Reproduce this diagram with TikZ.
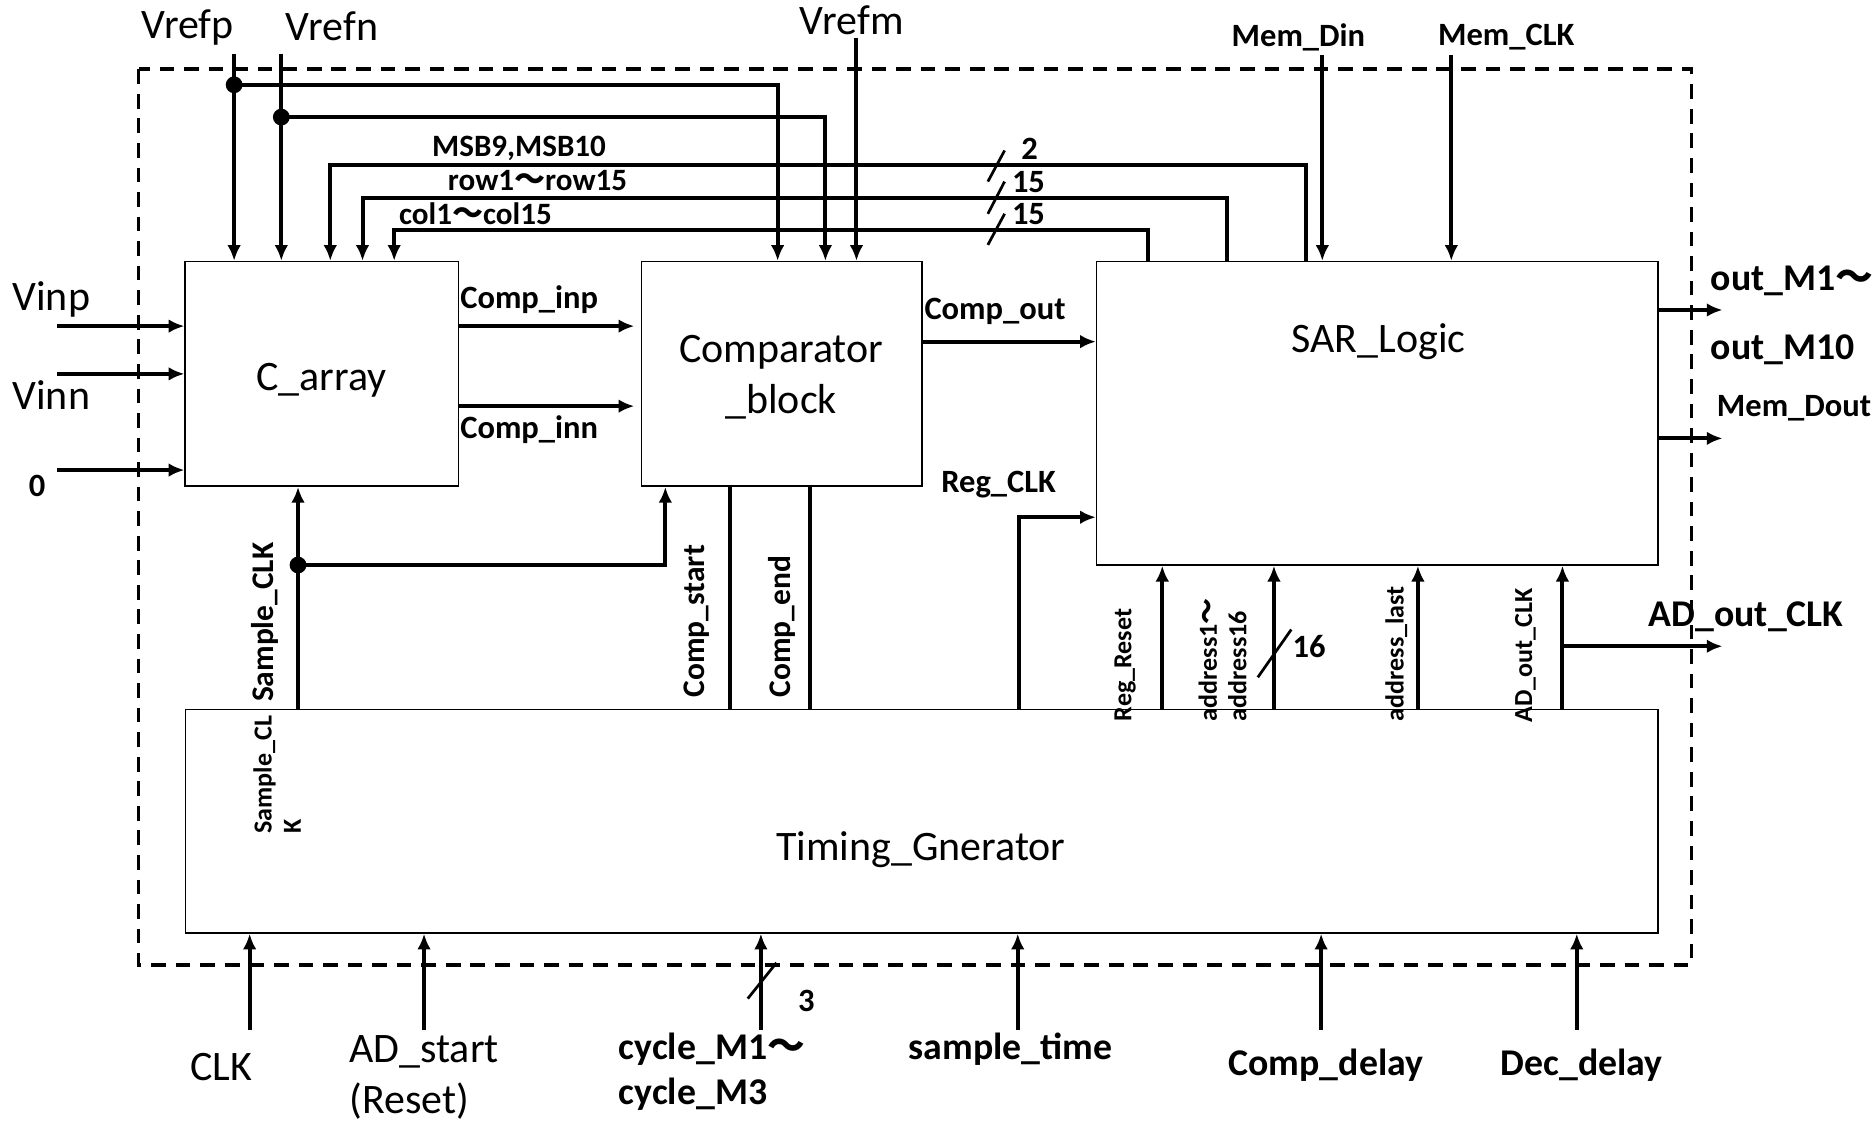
\documentclass[tikz,border=0pt]{standalone}
\usepackage{fontspec}
\setmainfont{Carlito}
\newfontfamily\cjk{Noto Sans CJK SC}
\usepackage{tikz}
\usetikzlibrary{
  arrows.meta,
  calc,
  positioning
}
\newcommand{\wt}{{\cjk ～}}
\tikzset{
  % Blocks
  blk/.style       = {draw, line width=0.75pt, inner sep=0pt},
  % Signal lines
  sigline/.style   = {line width=1.9pt},
  sig/.style       = {sigline, -{Latex[length=7.5pt,width=6.5pt]}},
  busmark/.style   = {line width=1.3pt},
  dashframe/.style = {line width=1.8pt, dash pattern=on 7pt off 4.7pt},
  % Junction dots
  dotpt/.style     = {circle, fill, inner sep=0pt, minimum size=8pt},
  % Labels
  lab/.style       = {inner sep=0pt, font=\fontsize{20}{24.4}\selectfont},
  labb/.style      = {inner sep=0pt, font=\bfseries\fontsize{15.5}{18}\selectfont},
  labbus/.style    = {inner sep=0pt, font=\bfseries\fontsize{14.8}{18}\selectfont},
  labbig/.style    = {inner sep=0pt, font=\bfseries\fontsize{18}{21.5}\selectfont},
  rotlab/.style    = {inner sep=0pt, rotate=90, anchor=west, font=\bfseries\fontsize{15}{18}\selectfont},
  rotsmall/.style  = {inner sep=0pt, rotate=90, anchor=west, align=left, font=\bfseries\fontsize{12.4}{14}\selectfont},
}

\begin{document}
\begin{tikzpicture}[x=0.02cm, y=-0.02cm]
  \useasboundingbox (0,0) rectangle (1568,940);
  \draw[dashframe] (116,58) rectangle (1416,808);

  % blocks
  \node[blk, minimum width=4.58cm, minimum height=3.76cm] (carr) at (269.5,313) {};
  \node[blk, minimum width=4.70cm, minimum height=3.76cm] (comp) at (654.5,313) {};
  \node[blk, minimum width=9.40cm, minimum height=5.08cm] (sar) at (1153,346) {};
  \node[blk, minimum width=24.66cm, minimum height=3.74cm] (tim) at (771.5,687.5) {};
  \node[lab] (carrtxt) at (269,318) {C\_array};
  \node[lab, align=center] (comptxt) at (654,316) {Comparator\\\_block};
  \node[lab] (sartxt) at (1154,286) {SAR\_Logic};
  \node[lab] (timtxt) at (771,711) {Timing\_Gnerator};

  % references
  \node[lab] (vrefptxt) at (157,23) {Vrefp};
  \node[lab] (vrefntxt) at (278,22) {Vrefn};
  \node[lab] (vrefmtxt) at (713,17) {Vrefm};
  \coordinate (vp) at (196,45);
  \coordinate (vn) at (235.5,45);
  \coordinate (vm) at (717,32);
  \draw[sig] (vp) -- (vp |- carr.north);
  \draw[sig] (vn) -- (vn |- carr.north);
  \draw[sig] (vm) -- (vm |- comp.north);
  \node[dotpt] (dp) at (196,71) {};
  \node[dotpt] (dn) at (235.5,98) {};
  \coordinate (vpc) at (651,71);
  \coordinate (vnc) at (691,98);
  \draw[sig] (dp.center) -- (vpc) -- (vpc |- comp.north);
  \draw[sig] (dn.center) -- (vnc) -- (vnc |- comp.north);

  % buses from SAR_Logic
  \coordinate (msb) at (1093,138);
  \coordinate (row) at (1027,165.5);
  \coordinate (col) at (961,192.5);
  \coordinate (msbin) at (276.5,138);
  \coordinate (rowin) at (303.5,165.5);
  \coordinate (colin) at (330,192.5);
  \draw[sig] (msb |- sar.north) -- (msb) -- (msbin) -- (msbin |- carr.north);
  \draw[sig] (row |- sar.north) -- (row) -- (rowin) -- (rowin |- carr.north);
  \draw[sig] (col |- sar.north) -- (col) -- (colin) -- (colin |- carr.north);
  \node[labbus] (msbtxt) at (434.5,124) {MSB9,MSB10};
  \node[labbus] (rowtxt) at (450,151) {row1\wt row15};
  \node[labbus] (coltxt) at (398,179) {col1\wt col15};
  \draw[busmark] (827,152) -- (841,126);
  \draw[busmark] (827,179) -- (841,152);
  \draw[busmark] (827,205) -- (841,179);
  \node[labb] (nmsb) at (862,125) {2};
  \node[labb] (nrow) at (861,152) {15};
  \node[labb] (ncol) at (861,179) {15};

  % memory inputs
  \node[labb] (memdintxt) at (1087,31) {Mem\_Din};
  \node[labb] (memclktxt) at (1261,31) {Mem\_CLK};
  \coordinate (mdin) at (1107,46);
  \coordinate (mclk) at (1215,46);
  \draw[sig] (mdin) -- (mdin |- sar.north);
  \draw[sig] (mclk) -- (mclk |- sar.north);

  % analog inputs
  \node[lab] (vinptxt) at (43,251) {Vinp};
  \node[lab] (vinntxt) at (43,331) {Vinn};
  \node[labb] (zerotxt) at (31,407) {0};
  \coordinate (vinp) at (48,273);
  \coordinate (vinn) at (48,313);
  \coordinate (zero) at (48,393.5);
  \foreach \c in {vinp,vinn,zero}
    \draw[sig] (\c) -- (\c -| carr.west);

  % C_array -> comparator -> SAR
  \coordinate (cinp) at (531,273);
  \coordinate (cinn) at (531,340);
  \draw[sig] (cinp -| carr.east) -- (cinp);
  \draw[sig] (cinn -| carr.east) -- (cinn);
  \node[labb] (cinptxt) at (443,251) {Comp\_inp};
  \node[labb] (cinntxt) at (443,360) {Comp\_inn};
  \coordinate (cout) at (850,286);
  \draw[sig] (cout -| comp.east) -- (cout -| sar.west);
  \node[labb] (couttxt) at (833,261) {Comp\_out};
  \coordinate (rclk) at (853,433);
  \draw[sig] (rclk |- tim.north) -- (rclk) -- (rclk -| sar.west);
  \node[labb] (rclktxt) at (836,406) {Reg\_CLK};

  % outputs
  \coordinate (outm) at (1442,259.5);
  \coordinate (mdout) at (1442,367);
  \coordinate (adclk) at (1442,541);
  \coordinate (adsrc) at (1308,541);
  \draw[sig] (outm -| sar.east) -- (outm);
  \draw[sig] (mdout -| sar.east) -- (mdout);
  \draw[sig] (adsrc) -- (adclk);
  \node[labbig, anchor=west] (outmtxt) at (1432,235) {out\_M1\wt};
  \node[labbig, anchor=west] (outmtxtb) at (1432,293) {out\_M10};
  \node[labb, anchor=west] (mdouttxt) at (1437,342) {Mem\_Dout};
  \node[labbig, anchor=west] (adclktxt) at (1380,516) {AD\_out\_CLK};

  % timing outputs
  \coordinate (sclk) at (249.5,473);
  \draw[sig] (sclk |- tim.north) -- (sclk |- carr.south);
  \node[dotpt] (ds) at (sclk) {};
  \coordinate (cst) at (557,473);
  \draw[sig] (ds.center) -- (cst) -- (cst |- comp.south);
  \coordinate (cstart) at (611,500);
  \coordinate (cend) at (678,500);
  \draw[sigline] (cstart |- tim.north) -- (cstart |- comp.south);
  \draw[sigline] (cend |- tim.north) -- (cend |- comp.south);
  \foreach \x/\n in {973/rreset, 1066.5/addr, 1187/alast, 1308/adout}
    \coordinate (\n) at (\x,530);
  \foreach \n in {rreset,addr,alast,adout}
    \draw[sig] (\n |- tim.north) -- (\n |- sar.south);
  \draw[busmark] (1053,567) -- (1081,527);
  \node[labb] (naddr) at (1096,541) {16};

  \node[rotlab] (sclktxt) at (222,588) {Sample\_CLK};
  \node[rotsmall] (sclkin) at (232,698) {Sample\_CL\\K};
  \node[rotlab] (cstarttxt) at (583,584) {Comp\_start};
  \node[rotlab] (cendtxt) at (655,584) {Comp\_end};
  \node[rotsmall] (rresettxt) at (942,604) {Reg\_Reset};
  \node[rotsmall] (addrtxt) at (1023.5,604) {address1\wt\\address16};
  \node[rotsmall] (alasttxt) at (1169,604) {address\_last};
  \node[rotsmall] (adouttxt) at (1277,605) {AD\_out\_CLK};

  % timing inputs
  \foreach \x/\n in {209/clk, 355/adst, 637/cyc, 852/stime, 1106/cdel, 1320/ddel}
    \coordinate (\n) at (\x,862);
  \foreach \n in {clk,adst,cyc,stime,cdel,ddel}
    \draw[sig] (\n) -- (\n |- tim.south);
  \draw[busmark] (626,836) -- (650,806);
  \node[labb] (ncyc) at (675,838) {3};
  \node[lab] (clktxt) at (185,893) {CLK};
  \node[lab, align=left] (adsttxt) at (355,902) {AD\_start\\(Reset)};
  \node[labbig, align=left] (cyctxt) at (596,897) {cycle\_M1\wt\\cycle\_M3};
  \node[labbig] (stimetxt) at (846,878) {sample\_time};
  \node[labbig] (cdeltxt) at (1110,892) {Comp\_delay};
  \node[labbig] (ddeltxt) at (1324,892) {Dec\_delay};
\end{tikzpicture}
\end{document}
